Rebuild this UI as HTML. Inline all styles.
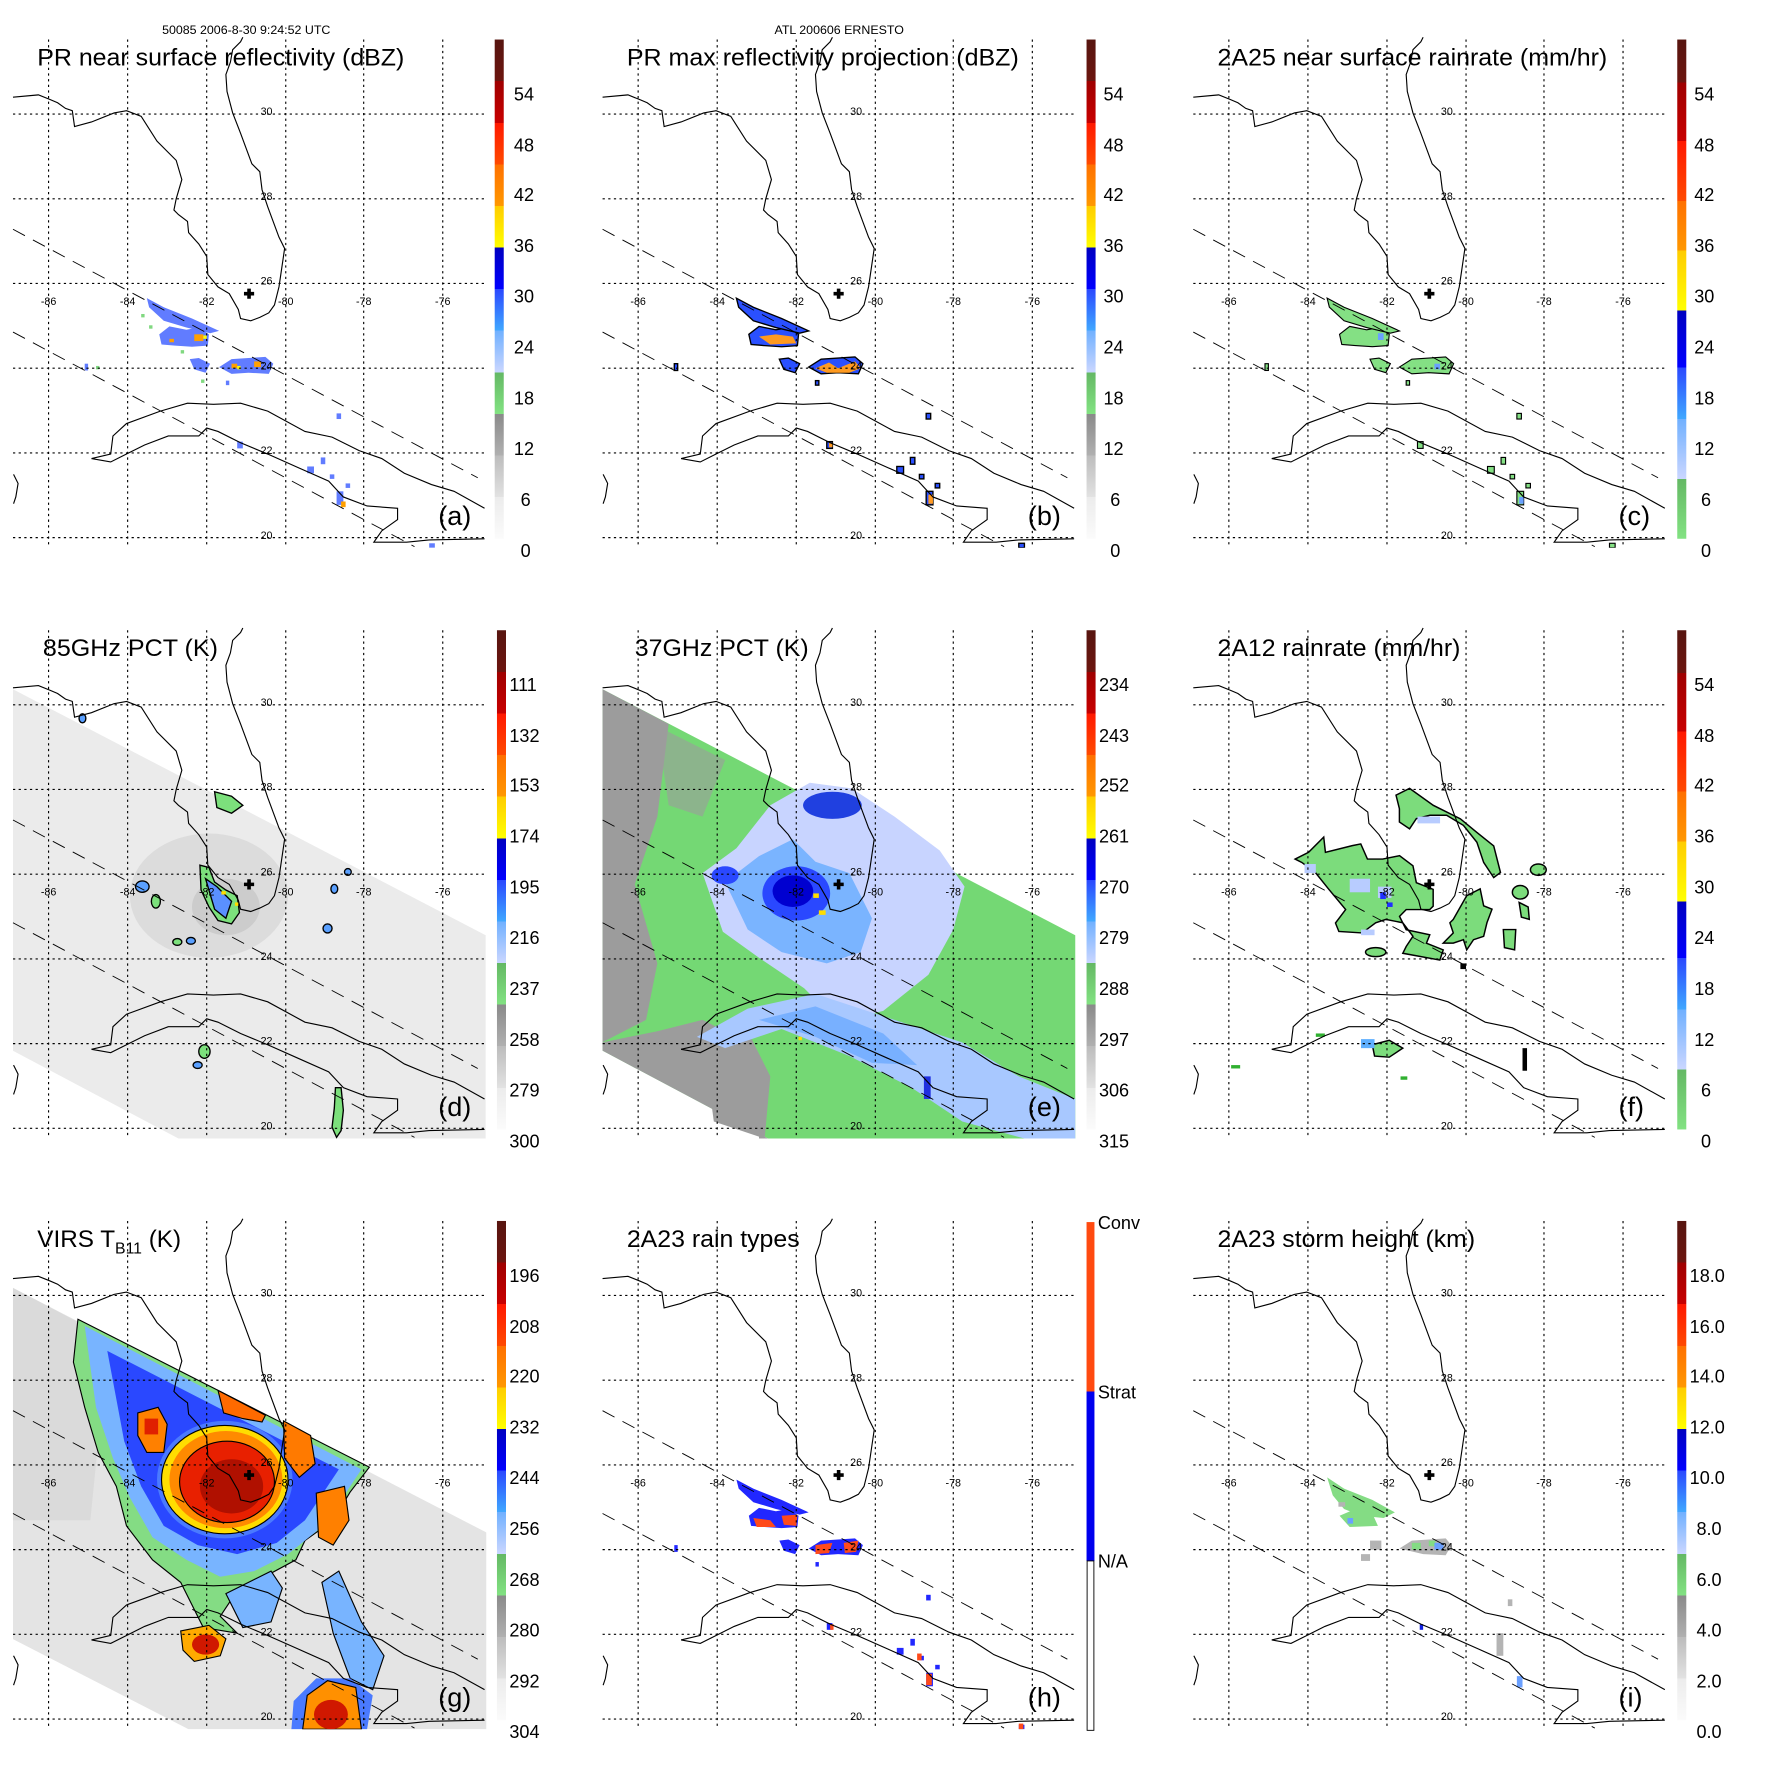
<!DOCTYPE html>
<html><head><meta charset="utf-8"><style>
html,body{margin:0;padding:0;background:#fff}
svg{display:block}
text{font-family:"Liberation Sans",sans-serif}
</style></head><body>
<svg xmlns="http://www.w3.org/2000/svg" xmlns:xlink="http://www.w3.org/1999/xlink" width="1771" height="1771" viewBox="0 0 1568 1568">
<defs>
<clipPath id="mc"><rect x="11.5" y="35" width="419" height="450"/></clipPath>
<linearGradient id="gA" x1="0" y1="0" x2="0" y2="1">
<stop offset="0" stop-color="#571510"/><stop offset=".0833" stop-color="#6c150f"/>
<stop offset=".0833" stop-color="#9e0000"/><stop offset=".1667" stop-color="#c80000"/>
<stop offset=".1667" stop-color="#ff1800"/><stop offset=".25" stop-color="#ff4a00"/>
<stop offset=".25" stop-color="#ff7000"/><stop offset=".3333" stop-color="#ff9800"/>
<stop offset=".3333" stop-color="#ffcc00"/><stop offset=".4167" stop-color="#ffff00"/>
<stop offset=".4167" stop-color="#0000c0"/><stop offset=".5" stop-color="#0000ff"/>
<stop offset=".5" stop-color="#2a48ff"/><stop offset=".5833" stop-color="#40a8ff"/>
<stop offset=".5833" stop-color="#70b0ff"/><stop offset=".6667" stop-color="#cad6ff"/>
<stop offset=".6667" stop-color="#64b864"/><stop offset=".75" stop-color="#82e282"/>
<stop offset=".75" stop-color="#8a8a8a"/><stop offset=".8333" stop-color="#b0b0b0"/>
<stop offset=".8333" stop-color="#bcbcbc"/><stop offset=".9167" stop-color="#e2e2e2"/>
<stop offset=".9167" stop-color="#ececec"/><stop offset="1" stop-color="#fbfbfb"/>
</linearGradient>
<linearGradient id="gC" x1="0" y1="0" x2="0" y2="1">
<stop offset="0" stop-color="#571510"/><stop offset=".086" stop-color="#6c150f"/>
<stop offset=".086" stop-color="#9e0000"/><stop offset=".203" stop-color="#c80000"/>
<stop offset=".203" stop-color="#ff1800"/><stop offset=".323" stop-color="#ff4a00"/>
<stop offset=".323" stop-color="#ff7000"/><stop offset=".423" stop-color="#ff9800"/>
<stop offset=".423" stop-color="#ffcc00"/><stop offset=".543" stop-color="#ffff00"/>
<stop offset=".543" stop-color="#0000c0"/><stop offset=".657" stop-color="#0000ff"/>
<stop offset=".657" stop-color="#2a48ff"/><stop offset=".76" stop-color="#40a8ff"/>
<stop offset=".76" stop-color="#70b0ff"/><stop offset=".88" stop-color="#cad6ff"/>
<stop offset=".88" stop-color="#64b864"/><stop offset="1" stop-color="#82e282"/>
</linearGradient>
<g id="base" fill="none" stroke="#000">
<g stroke-width="1" stroke-dasharray="2,3">
<path d="M43 35V485M113 35V485M183 35V485M253 35V485M322 35V485M392 35V485"/>
<path d="M11.5 101H430M11.5 176H430M11.5 251H430M11.5 326H430M11.5 401H430M11.5 476H430"/>
</g>
<g stroke-width="0.8" stroke-dasharray="12,8">
<path d="M11.5 203L423 423"/><path d="M11.5 294L367 484"/>
</g>
<g stroke-width="1">
<path d="M11.5 86L34 84L44 88L51 91L58 96L64 98L66 112L81 108L101 100L112 98L125 103L139 125L156 142L161 159L156 176L154 186L158 190L166 196L167 206L176 216L183 227L184 243L193 254L203 260L211 274L213 282L222 284L230 281L238 277L243 270L247 254L252 220L247 210L237 183L232 168L230 152L223 145L213 118L206 100L201 81L200 66L204 55L206 44L213 37L215 33"/>
<path d="M81 406L98 402L100 386L112 375L142 364L166 357L189 358L213 357L237 364L270 382L294 387L318 399L338 406L358 419L382 429L402 435L429 450"/>
<path d="M429 477L380 478L360 480L352 480L331 480L338 470L352 460L352 450L325 448L304 440L291 426L264 414L237 402L213 392L193 382L183 379L176 386L149 386L128 394L112 402L98 409L81 406"/>
<path d="M12 420L16 428L14 440L12 446"/>
</g>
<path d="M216 260H225M220.5 255.5V264.5" stroke-width="3.2"/>
</g>
<g id="ticks" font-size="9.5" fill="#000" text-anchor="middle">
<text x="43" y="270">-86</text><text x="113" y="270">-84</text><text x="183" y="270">-82</text><text x="253" y="270">-80</text><text x="322" y="270">-78</text><text x="392" y="270">-76</text>
<text x="236" y="102">30</text><text x="236" y="177">28</text><text x="236" y="252">26</text><text x="236" y="327">24</text><text x="236" y="402">22</text><text x="236" y="477">20</text>
</g>
<g id="prblobs">
<path d="M141 296L150 289L165 292L176 290L185 296L184 306L170 307L155 306L143 305Z"/>
<path d="M130 264L145 272L170 282L194 293L186 295L165 290L145 284L132 272Z"/>
<path d="M194 325L205 318L220 317L235 316L242 322L238 331L220 330L205 331Z"/>
<path d="M168 318L176 317L186 322L182 330L172 327Z"/>
<rect x="210" y="391" width="5" height="6"/><rect x="284" y="405" width="4" height="6"/><rect x="272" y="413" width="6" height="6"/>
<rect x="298" y="435" width="6" height="12"/><rect x="298" y="366" width="4" height="5"/><rect x="380" y="481" width="5" height="4"/>
<rect x="292" y="420" width="4" height="4"/><rect x="306" y="428" width="4" height="4"/><rect x="75" y="322" width="3" height="6"/><rect x="200" y="337" width="3" height="4"/>
</g>
</defs>

<text x="218" y="30" font-size="11" text-anchor="middle">50085 2006-8-30 9:24:52 UTC</text>
<text x="743" y="30" font-size="11" text-anchor="middle">ATL 200606 ERNESTO</text>

<!-- Panel a -->
<g transform="translate(0,0)">
<g clip-path="url(#mc)">
<g fill="#3a5cff"><use xlink:href="#prblobs" opacity="0.8"/></g>
<g fill="#80d880"><rect x="125" y="278" width="3" height="3"/><rect x="132" y="288" width="3" height="3"/><rect x="160" y="310" width="3" height="3"/><rect x="178" y="336" width="3" height="3"/><rect x="85" y="324" width="3" height="3"/></g>
<g fill="#ffa000"><rect x="172" y="296" width="8" height="6"/><rect x="205" y="322" width="5" height="4"/><rect x="225" y="320" width="6" height="5"/><rect x="302" y="444" width="4" height="5"/><rect x="150" y="300" width="4" height="3"/></g>
<g fill="#ffff00"><rect x="210" y="324" width="3" height="3"/><rect x="180" y="297" width="3" height="3"/></g>
</g>
<use xlink:href="#base"/><use xlink:href="#ticks"/>
<rect x="438" y="35" width="8" height="442" fill="url(#gA)"/>
<g font-size="16" font-family="Liberation Sans,sans-serif"><text x="455" y="89">54</text><text x="455" y="134">48</text><text x="455" y="178">42</text><text x="455" y="223">36</text><text x="455" y="268">30</text><text x="455" y="313">24</text><text x="455" y="358">18</text><text x="455" y="403">12</text><text x="461" y="448">6</text><text x="461" y="493">0</text></g>
<text x="33" y="58" font-size="21.5" textLength="325" lengthAdjust="spacingAndGlyphs">PR near surface reflectivity (dBZ)</text>
<text x="388" y="465" font-size="24">(a)</text>
</g>

<!-- Panel b -->
<g transform="translate(522,0)">
<g clip-path="url(#mc)">
<g fill="#2a50ff" stroke="#000" stroke-width="1.2"><use xlink:href="#prblobs"/></g>
<g fill="#ff9a20"><path d="M150 298L165 296L180 298L183 304L160 305Z"/><path d="M200 326L212 321L220 326L235 320L240 326L230 330L210 330Z"/><rect x="300" y="438" width="4" height="8"/><rect x="212" y="392" width="3" height="4"/></g>
</g>
<use xlink:href="#base"/><use xlink:href="#ticks"/>
<rect x="440" y="35" width="8" height="442" fill="url(#gA)"/>
<g font-size="16"><text x="455" y="89">54</text><text x="455" y="134">48</text><text x="455" y="178">42</text><text x="455" y="223">36</text><text x="455" y="268">30</text><text x="455" y="313">24</text><text x="455" y="358">18</text><text x="455" y="403">12</text><text x="461" y="448">6</text><text x="461" y="493">0</text></g>
<text x="33" y="58" font-size="21.5" textLength="347" lengthAdjust="spacingAndGlyphs">PR max reflectivity projection (dBZ)</text>
<text x="388" y="465" font-size="24">(b)</text>
</g>

<!-- Panel c -->
<g transform="translate(1045,0)">
<g clip-path="url(#mc)">
<g fill="#84e084" stroke="#000" stroke-width="1"><use xlink:href="#prblobs"/></g>
<g fill="#6aa0ff"><rect x="175" y="295" width="5" height="6"/><rect x="225" y="322" width="5" height="5"/><rect x="300" y="440" width="4" height="6"/></g>
</g>
<use xlink:href="#base"/><use xlink:href="#ticks"/>
<rect x="440" y="35" width="8" height="442" fill="url(#gC)"/>
<g font-size="16"><text x="455" y="89">54</text><text x="455" y="134">48</text><text x="455" y="178">42</text><text x="455" y="223">36</text><text x="455" y="268">30</text><text x="455" y="313">24</text><text x="455" y="358">18</text><text x="455" y="403">12</text><text x="461" y="448">6</text><text x="461" y="493">0</text></g>
<text x="33" y="58" font-size="21.5" textLength="345" lengthAdjust="spacingAndGlyphs">2A25 near surface rainrate (mm/hr)</text>
<text x="388" y="465" font-size="24">(c)</text>
</g>

<!-- Panel d -->
<g transform="translate(0,523)">
<g clip-path="url(#mc)">
<path d="M11 87L430 305L430 485L158 485L11 407Z" fill="#ebebeb"/>
<ellipse cx="185" cy="270" rx="70" ry="55" fill="#d6d6d6" opacity="0.7"/>
<ellipse cx="200" cy="280" rx="30" ry="25" fill="#c4c4c4" opacity="0.7"/>
<g stroke="#000" stroke-width="1.2">
<path d="M190 178L205 182L215 190L205 197L192 192Z" fill="#7ce07c"/>
<path d="M177 243L185 245L190 258L200 265L210 270L212 285L205 295L193 292L185 280L178 265Z" fill="#7ce07c"/>
<path d="M182 255L192 262L205 275L200 290L190 282Z" fill="#5a90ff"/>
<ellipse cx="126" cy="262" rx="6" ry="5" fill="#5aa0ff"/><ellipse cx="138" cy="275" rx="4" ry="6" fill="#7ce07c"/>
<ellipse cx="157" cy="311" rx="4" ry="3" fill="#7ce07c"/><ellipse cx="169" cy="310" rx="4" ry="3" fill="#5aa0ff"/>
<ellipse cx="308" cy="249" rx="3" ry="3" fill="#5aa0ff"/><ellipse cx="296" cy="264" rx="3" ry="4" fill="#5aa0ff"/><ellipse cx="290" cy="299" rx="4" ry="4" fill="#5aa0ff"/>
<ellipse cx="181" cy="408" rx="5" ry="6" fill="#7ce07c"/><ellipse cx="175" cy="420" rx="4" ry="3" fill="#5aa0ff"/>
<path d="M297 440L302 440L304 460L302 478L298 484L294 475L296 458Z" fill="#7ce07c"/>
<ellipse cx="73" cy="113" rx="3" ry="4" fill="#5aa0ff"/>
</g>
<g fill="#ffdd00"><rect x="196" y="266" width="4" height="3"/><rect x="208" y="276" width="3" height="3"/></g>
</g>
<use xlink:href="#base"/><use xlink:href="#ticks"/>
<rect x="440" y="35" width="8" height="442" fill="url(#gA)"/>
<g font-size="16"><text x="451" y="89">111</text><text x="451" y="134">132</text><text x="451" y="178">153</text><text x="451" y="223">174</text><text x="451" y="268">195</text><text x="451" y="313">216</text><text x="451" y="358">237</text><text x="451" y="403">258</text><text x="451" y="448">279</text><text x="451" y="493">300</text></g>
<text x="38" y="58" font-size="21.5" textLength="155" lengthAdjust="spacingAndGlyphs">85GHz PCT (K)</text>
<text x="388" y="465" font-size="24">(d)</text>
</g>

<!-- Panel e -->
<g transform="translate(522,523)">
<g clip-path="url(#mc)">
<path d="M11 87L430 305L430 485L158 485L11 407Z" fill="#74d874"/>
<g fill="#9c9c9c">
<path d="M11 87L70 118L60 200L40 260L60 330L50 380L11 400Z"/>
<path d="M11 400L60 390L100 380L140 400L150 440L150 485L158 485L11 407Z"/>
<path d="M100 395L140 390L160 430L155 485L110 470Z"/>
<path d="M60 120L120 150L100 200L70 190Z" opacity="0.6"/>
<path d="M320 420L360 440L380 470L340 470Z"/>
</g>
<path d="M100 250L130 228L160 190L195 170L232 175L270 200L310 230L332 262L322 300L300 340L260 372L220 382L190 352L150 325L118 302Z" fill="#c8d4ff"/>
<path d="M120 258L150 235L180 220L200 240L230 250L250 290L240 320L210 330L170 320L140 300Z" fill="#7ab4ff"/>
<ellipse cx="183" cy="268" rx="30" ry="24" fill="#2a48ff"/>
<ellipse cx="180" cy="266" rx="18" ry="14" fill="#0000d0"/>
<ellipse cx="215" cy="190" rx="26" ry="12" fill="#2040e0"/>
<ellipse cx="120" cy="252" rx="12" ry="8" fill="#2a48ff"/>
<path d="M95 395L140 370L200 357L270 380L330 400L380 430L430 450L430 485L385 485L330 470L285 440L230 412L170 388L120 405Z" fill="#a8c8ff"/>
<path d="M150 380L200 368L260 392L290 420L250 418L200 395Z" fill="#78b0ff"/>
<rect x="296" y="430" width="6" height="20" fill="#2030e0"/>
<g fill="#ffdd00"><rect x="198" y="268" width="5" height="4"/><rect x="203" y="283" width="6" height="4"/><rect x="185" y="395" width="3" height="3"/></g>
</g>
<use xlink:href="#base"/><use xlink:href="#ticks"/>
<rect x="440" y="35" width="8" height="442" fill="url(#gA)"/>
<g font-size="16"><text x="451" y="89">234</text><text x="451" y="134">243</text><text x="451" y="178">252</text><text x="451" y="223">261</text><text x="451" y="268">270</text><text x="451" y="313">279</text><text x="451" y="358">288</text><text x="451" y="403">297</text><text x="451" y="448">306</text><text x="451" y="493">315</text></g>
<text x="40" y="58" font-size="21.5" textLength="154" lengthAdjust="spacingAndGlyphs">37GHz PCT (K)</text>
<text x="388" y="465" font-size="24">(e)</text>
</g>

<!-- Panel f -->
<g transform="translate(1045,523)">
<g clip-path="url(#mc)">
<g fill="#7cdc7c" stroke="#000" stroke-width="1.3">
<path d="M101.7 237.6L113.6 231.6L127 218.2L128.5 231.6L152.3 225.7L159.8 224.2L165.7 237.6L179.2 237.6L194.1 234.6L206 243.5L209 258.5L223.9 264.4L223.9 279.3L220.9 282.3L200 282.3L194.1 288.3L200 300.2L220.9 304.6L217.9 312.1L232.8 318L229.8 327L197 321L200 315L206 306L197 294L182 291L173 294L161 303L140.4 301.7L137.4 294.2L146.4 282.3L131.5 264.4L119.6 249.5L107.6 240.6Z"/>
<path d="M191 181L203 175L224 190L248 202L262.6 214L277.5 226L283.5 249.5L277.5 254L268.6 240.6L262.6 222.7L250.7 207.8L235.8 198.8L221 198.8L209 201.8L203 210.8L194 204.8L194 193Z"/>
<path d="M241.7 291L253.6 270L265.5 264L268.6 279L276 282L271.5 294L268.6 306L259.6 309L253.6 318L250.7 309L241.7 312L232.8 312L241.7 303L238.7 294Z"/>
<ellipse cx="301" cy="267" rx="7" ry="6"/><path d="M300 276L308 280L309 291L302 289Z"/><path d="M286 300L297 300L296 318L287 316Z"/><ellipse cx="317" cy="247" rx="7" ry="5"/><ellipse cx="173" cy="320" rx="9" ry="4"/>
<path d="M170 402L185 398L197 405L185 413L172 412Z"/>
</g>
<g fill="#b8ccff"><rect x="150" y="255" width="18" height="12"/><rect x="175" y="262" width="12" height="10"/><rect x="110" y="242" width="10" height="8"/><rect x="210" y="200" width="20" height="6"/><rect x="160" y="300" width="12" height="5"/></g>
<g fill="#2030ff"><rect x="177" y="267" width="5" height="6"/><rect x="183" y="276" width="5" height="4"/></g>
<rect x="160" y="397" width="12" height="8" fill="#60b0ff"/>
<g fill="#000"><rect x="303" y="405" width="4" height="20"/><rect x="248" y="330" width="5" height="5"/></g>
<g fill="#30b030"><rect x="120" y="392" width="8" height="3"/><rect x="45" y="420" width="8" height="3"/><rect x="195" y="430" width="6" height="3"/></g>
</g>
<use xlink:href="#base"/><use xlink:href="#ticks"/>
<rect x="440" y="35" width="8" height="442" fill="url(#gC)"/>
<g font-size="16"><text x="455" y="89">54</text><text x="455" y="134">48</text><text x="455" y="178">42</text><text x="455" y="223">36</text><text x="455" y="268">30</text><text x="455" y="313">24</text><text x="455" y="358">18</text><text x="455" y="403">12</text><text x="461" y="448">6</text><text x="461" y="493">0</text></g>
<text x="33" y="58" font-size="21.5" textLength="215" lengthAdjust="spacingAndGlyphs">2A12 rainrate (mm/hr)</text>
<text x="388" y="465" font-size="24">(f)</text>
</g>

<!-- Panel g -->
<g transform="translate(0,1046)">
<g clip-path="url(#mc)">
<path d="M11 94L431 311L431 485L167 485L11 405Z" fill="#e4e4e4"/>
<path d="M11 94L70 125L90 200L80 300L11 300Z" fill="#d4d4d4" opacity="0.6"/>
<path d="M69 122L327 253L310 275L295 300L270 318L262 335L225 355L205 370L195 385L210 400L180 395L160 355L135 335L112 305L103 270L87 240L75 200L65 160Z" fill="#84dc84" stroke="#000" stroke-width="1"/>
<path d="M75 128L320 255L300 285L280 310L255 330L225 345L195 350L165 335L135 315L115 280L100 245L85 200Z" fill="#78b4ff"/>
<path d="M95 150L300 255L270 300L245 320L210 330L175 322L145 305L125 270L110 230Z" fill="#2a48ff"/>
<ellipse cx="199" cy="264" rx="60" ry="52" fill="#4a7aff"/>
<ellipse cx="199" cy="264" rx="56" ry="48" fill="#ffdd00" stroke="#000" stroke-width="1"/>
<ellipse cx="200" cy="264" rx="50" ry="43" fill="#ff8a00"/>
<ellipse cx="201" cy="266" rx="42" ry="36" fill="#e82000" stroke="#000" stroke-width="1"/>
<ellipse cx="205" cy="270" rx="28" ry="24" fill="#b01000"/>
<path d="M193 185L235 207L232 213L215 210L198 205Z" fill="#ff6a00" stroke="#000"/>
<path d="M122 205L140 200L148 215L145 240L130 240L122 225Z" fill="#ff8000" stroke="#000"/>
<rect x="128" y="210" width="12" height="14" fill="#e02000"/>
<path d="M251 212L275 225L279 250L265 262L252 245Z" fill="#ff7a00" stroke="#000"/>
<path d="M280 276L305 270L309 300L295 322L282 315Z" fill="#ff8000" stroke="#000"/>
<path d="M200 365L240 345L250 360L240 390L215 395Z" fill="#78b4ff" stroke="#000"/>
<path d="M285 355L300 345L320 390L340 420L330 450L310 440L295 400Z" fill="#78b4ff" stroke="#000"/>
<path d="M160 398L185 393L200 405L195 420L172 425L162 415Z" fill="#ffaa00" stroke="#000"/>
<ellipse cx="182" cy="410" rx="12" ry="9" fill="#d01800"/>
<path d="M260 460L280 440L310 440L330 455L325 485L258 485Z" fill="#4a7aff"/>
<path d="M272 455L290 442L315 448L320 485L268 485Z" fill="#ff9000" stroke="#000"/>
<ellipse cx="293" cy="472" rx="15" ry="13" fill="#d01800"/>
</g>
<use xlink:href="#base"/><use xlink:href="#ticks"/>
<rect x="440" y="35" width="8" height="442" fill="url(#gA)"/>
<g font-size="16"><text x="451" y="89">196</text><text x="451" y="134">208</text><text x="451" y="178">220</text><text x="451" y="223">232</text><text x="451" y="268">244</text><text x="451" y="313">256</text><text x="451" y="358">268</text><text x="451" y="403">280</text><text x="451" y="448">292</text><text x="451" y="493">304</text></g>
<text x="33" y="58" font-size="21.5">VIRS T<tspan font-size="14" dy="6">B11</tspan><tspan dy="-6"> (K)</tspan></text>
<text x="388" y="465" font-size="24">(g)</text>
</g>

<!-- Panel h -->
<g transform="translate(522,1046)">
<g clip-path="url(#mc)">
<g fill="#0a10ff"><use xlink:href="#prblobs" opacity="0.9"/></g>
<g fill="#ff4a1a"><path d="M145 298L160 300L165 306L148 306Z"/><path d="M170 296L184 295L183 305L172 304Z"/><path d="M200 322L215 320L212 329L200 330Z"/><path d="M225 320L238 318L236 328L226 329Z"/><rect x="298" y="436" width="5" height="10"/><rect x="290" y="418" width="4" height="6"/><rect x="213" y="392" width="3" height="5"/><rect x="380" y="480" width="4" height="5"/></g>
</g>
<use xlink:href="#base"/><use xlink:href="#ticks"/>
<rect x="440" y="36" width="7" height="150" fill="#ff4a10"/>
<rect x="440" y="186" width="7" height="150" fill="#0000ee"/>
<rect x="440.5" y="336" width="6" height="150" fill="#fff" stroke="#000" stroke-width="0.8"/>
<g font-size="16"><text x="450" y="42">Conv</text><text x="450" y="192">Strat</text><text x="450" y="342">N/A</text></g>
<text x="33" y="58" font-size="21.5" textLength="153" lengthAdjust="spacingAndGlyphs">2A23 rain types</text>
<text x="388" y="465" font-size="24">(h)</text>
</g>

<!-- Panel i -->
<g transform="translate(1045,1046)">
<g clip-path="url(#mc)">
<g fill="#84dc84"><path d="M130 262L145 272L170 282L190 293L180 298L160 296L145 290L135 278Z"/><path d="M141 296L155 290L170 294L175 305L150 306Z"/></g>
<g fill="#b4b4b4"><path d="M194 325L205 318L220 317L235 316L240 322L235 331L215 330Z"/><rect x="168" y="318" width="10" height="8"/><rect x="140" y="284" width="6" height="4"/><rect x="160" y="330" width="8" height="6"/><rect x="280" y="400" width="6" height="20"/><rect x="290" y="370" width="4" height="6"/></g>
<g fill="#84dc84"><rect x="205" y="320" width="8" height="6"/><rect x="220" y="318" width="6" height="5"/></g>
<g fill="#6aa0ff"><rect x="225" y="320" width="8" height="6"/><rect x="148" y="298" width="5" height="5"/><rect x="298" y="438" width="5" height="10"/></g>
<rect x="212" y="392" width="3" height="5" fill="#1020e0"/>
</g>
<use xlink:href="#base"/><use xlink:href="#ticks"/>
<rect x="440" y="35" width="8" height="442" fill="url(#gA)"/>
<g font-size="16"><text x="451" y="89">18.0</text><text x="451" y="134">16.0</text><text x="451" y="178">14.0</text><text x="451" y="223">12.0</text><text x="451" y="268">10.0</text><text x="457" y="313">8.0</text><text x="457" y="358">6.0</text><text x="457" y="403">4.0</text><text x="457" y="448">2.0</text><text x="457" y="493">0.0</text></g>
<text x="33" y="58" font-size="21.5" textLength="228" lengthAdjust="spacingAndGlyphs">2A23 storm height (km)</text>
<text x="388" y="465" font-size="24">(i)</text>
</g>
</svg>
</body></html>
